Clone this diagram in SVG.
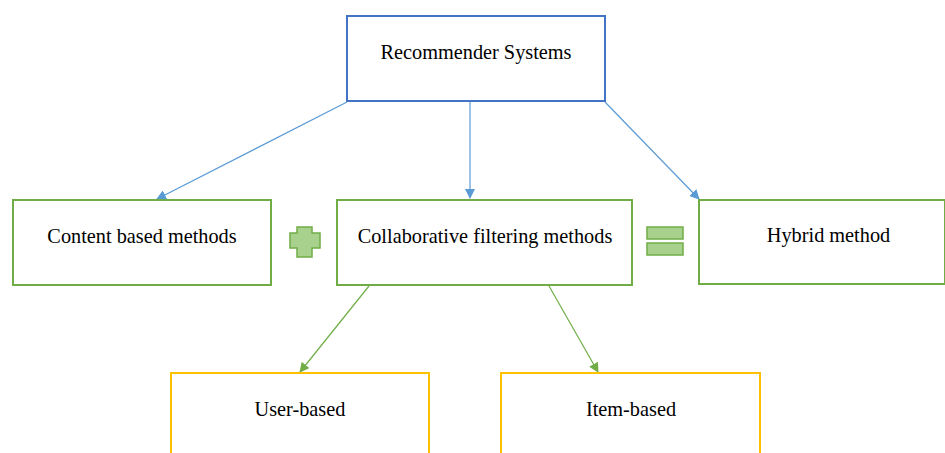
<svg xmlns="http://www.w3.org/2000/svg" width="945" height="453" viewBox="0 0 945 453">
  <defs>
    <marker id="arrowBlue" viewBox="0 0 10 10" refX="9" refY="5" markerWidth="10" markerHeight="10" markerUnits="userSpaceOnUse" orient="auto">
      <path d="M0,0 L10,5 L0,10 z" fill="#5B9BD5"/>
    </marker>
    <marker id="arrowGreen" viewBox="0 0 10 10" refX="9" refY="5" markerWidth="10" markerHeight="10" markerUnits="userSpaceOnUse" orient="auto">
      <path d="M0,0 L10,5 L0,10 z" fill="#70AD47"/>
    </marker>
  </defs>
  <style>
    .box { fill: #ffffff; stroke-width: 2; }
    .blue { stroke: #4472C4; }
    .green { stroke: #70AD47; }
    .orange { stroke: #FFC000; }
    .label { font-family: 'Liberation Serif', 'Times New Roman', 'DejaVu Serif', serif; font-size: 20.3px; fill: #000000; text-anchor: middle; }
    .link-blue { stroke: #5B9BD5; stroke-width: 1.2; fill: none; marker-end: url(#arrowBlue); }
    .link-green { stroke: #70AD47; stroke-width: 1.2; fill: none; marker-end: url(#arrowGreen); }
    .op { fill: #A9D18E; stroke: #70AD47; stroke-width: 1.5; }
  </style>
  <rect width="945" height="453" fill="#ffffff"/>

  <!-- arrows from the root and from collaborative filtering -->
  <g id="connectors">
    <line class="link-blue" x1="347" y1="102" x2="157" y2="199"/>
    <line class="link-blue" x1="470" y1="102" x2="470" y2="198"/>
    <line class="link-blue" x1="605" y1="102" x2="699" y2="199"/>
    <line class="link-green" x1="369" y1="286" x2="300" y2="372"/>
    <line class="link-green" x1="549" y1="286" x2="598" y2="372"/>
  </g>

  <g id="recommender-systems">
    <rect class="box blue" x="347" y="16" width="258" height="85"/>
    <text class="label" x="476" y="58.5">Recommender Systems</text>
  </g>

  <g id="content-based">
    <rect class="box green" x="13" y="200" width="258" height="85"/>
    <text class="label" x="142" y="243">Content based methods</text>
  </g>

  <g id="plus-sign">
    <path class="op" d="M297,227 H312 V233 H320 V248 H312 V257 H297 V248 H290 V233 H297 Z"/>
  </g>

  <g id="collaborative-filtering">
    <rect class="box green" x="337" y="200" width="295" height="85"/>
    <text class="label" x="485" y="243">Collaborative filtering methods</text>
  </g>

  <g id="equals-sign">
    <rect class="op" x="647" y="227" width="36" height="12"/>
    <rect class="op" x="647" y="243" width="36" height="12"/>
  </g>

  <g id="hybrid">
    <rect class="box green" x="699" y="200" width="246" height="84"/>
    <text class="label" x="828.5" y="242">Hybrid method</text>
  </g>

  <g id="user-based">
    <rect class="box orange" x="171" y="373" width="258" height="90"/>
    <text class="label" x="300" y="415.5">User-based</text>
  </g>

  <g id="item-based">
    <rect class="box orange" x="501" y="373" width="259" height="90"/>
    <text class="label" x="631" y="415.5">Item-based</text>
  </g>
</svg>
